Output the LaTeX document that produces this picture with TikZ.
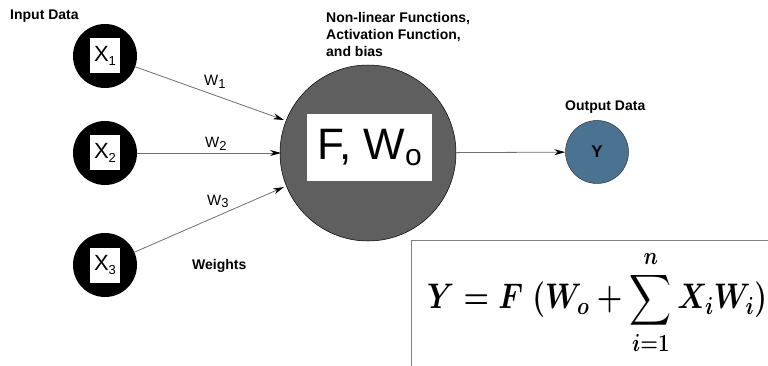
\documentclass[tikz,border=0pt]{standalone}
\usepackage{amsmath}
\usepackage{graphicx}
\usepackage{fontspec}
\setmainfont{Liberation Sans}
\usetikzlibrary{arrows.meta}
\definecolor{bigcirc}{RGB}{95,95,95}
\definecolor{outcirc}{RGB}{74,115,145}
\definecolor{linegray}{RGB}{110,110,110}
\newcommand{\lowsub}[1]{\raisebox{-0.35ex}{\fontsize{13}{13}\selectfont #1}}
\newsavebox{\eqnbox}
\begin{document}
\sbox{\eqnbox}{\resizebox*{340pt}{105pt}{\fontsize{24}{28}\selectfont\boldmath$\displaystyle Y = F\;(W_o + \sum_{i=1}^{n} X_i W_i)$}}
\begin{tikzpicture}[x=1pt,y=-1pt,
  incirc/.style={circle,fill=black,minimum size=64pt,inner sep=0pt},
  inbox/.style={fill=white,minimum width=30pt,minimum height=35pt,inner sep=0pt,font=\fontsize{22}{22}\selectfont},
  lbl/.style={font=\bfseries\fontsize{14}{17}\selectfont,align=left,inner sep=0pt},
  wlbl/.style={font=\fontsize{15}{15}\selectfont,inner sep=0pt},
  conn/.style={draw=linegray,line width=0.8pt,-{Stealth[length=11pt,width=6pt,black]}}
]
\useasboundingbox (0,0) rectangle (768,366);
\node[incirc] (c1) at (105,56) {};
\node[incirc] (c2) at (105,153) {};
\node[incirc] (c3) at (105,265) {};
\node[inbox] (b1) at (c1) {X\lowsub{1}};
\node[inbox] (b2) at (c2) {X\lowsub{2}};
\node[inbox] (b3) at (c3) {X\lowsub{3}};
\node[circle,draw=black,line width=0.5pt,fill=bigcirc,minimum size=176pt,inner sep=0pt] (f) at (368,153) {};
\node[fill=white,minimum width=125pt,minimum height=67pt,inner sep=0pt,font=\fontsize{44}{44}\selectfont] (fb) at (369.5,147.5) {F, W\raisebox{-0.3ex}{\fontsize{30}{30}\selectfont o}};
\node[circle,draw=black!80,line width=0.5pt,fill=outcirc,minimum size=63pt,inner sep=0pt,font=\bfseries\fontsize{17}{17}\selectfont] (y) at (597,152) {Y};
\node[lbl,anchor=base west] (inl) at (10,20) {Input Data};
\node[lbl,anchor=base west] (nl) at (326,57) {Non-linear Functions,\\Activation Function,\\and bias};
\node[lbl,anchor=base west] (ol) at (565,111) {Output Data};
\node[lbl,anchor=base west] (wl) at (192,269) {Weights};
\coordinate (t1) at (284,120);
\coordinate (t2) at (281,153);
\coordinate (t3) at (284,187);
\draw[conn] (c1) -- (t1);
\draw[conn] (c2) -- (t2);
\draw[conn] (c3) -- (t3);
\draw[conn] (f) -- (y);
\node[wlbl,anchor=base west] (w1) at (204,86) {W\lowsub{1}};
\node[wlbl,anchor=base west] (w2) at (205,148) {W\lowsub{2}};
\node[wlbl,anchor=base west] (w3) at (207,205) {W\lowsub{3}};
\coordinate (eb1) at (411,366);
\coordinate (eb2) at (411,240);
\coordinate (eb3) at (768,240);
\draw[draw=gray,line width=0.8pt] (eb1) -- (eb2) -- (eb3);
\node[inner sep=0pt,anchor=west] (eqn) at (427,302.5) {\usebox{\eqnbox}};
\end{tikzpicture}
\end{document}
